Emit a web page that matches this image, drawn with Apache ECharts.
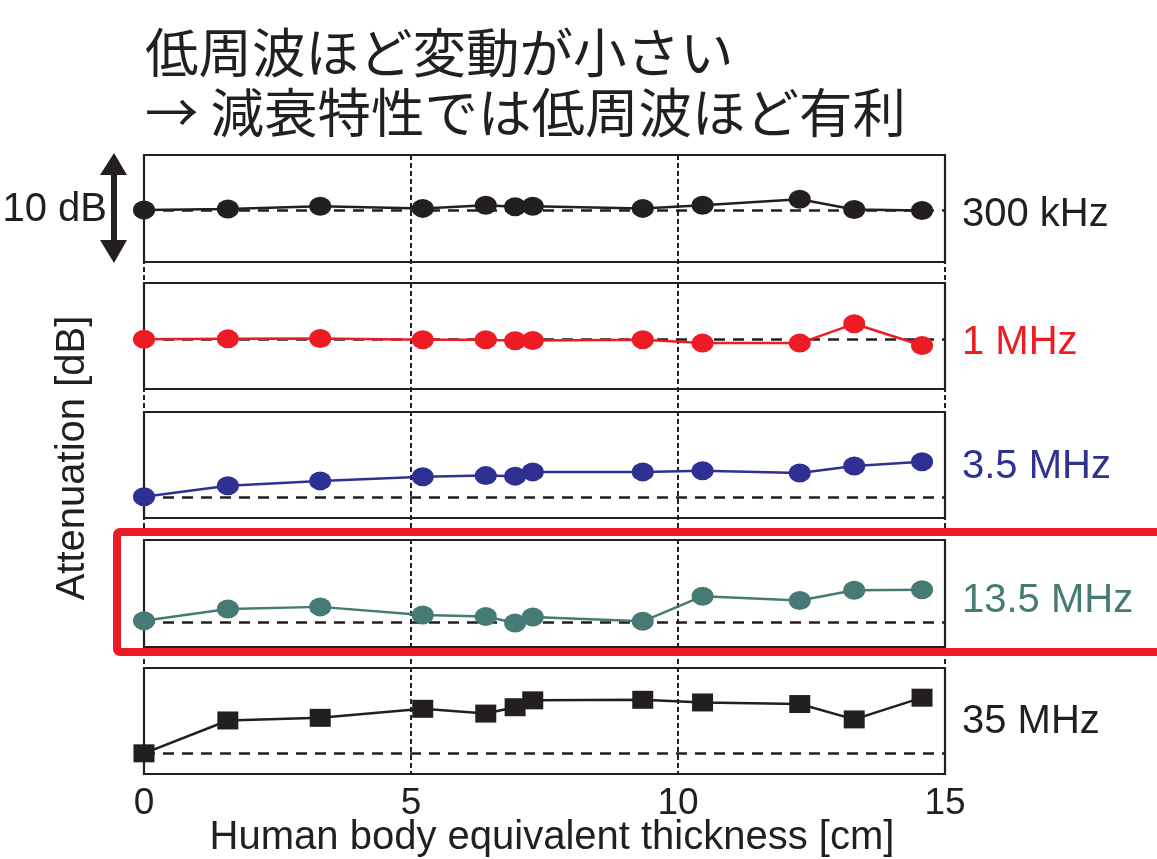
<!DOCTYPE html>
<html>
<head>
<meta charset="utf-8">
<script src="https://cdn.jsdelivr.net/npm/echarts@6/dist/echarts.min.js"></script>
<style>
html,body{margin:0;padding:0;background:#fff;}
#main{width:1157px;height:859px;}
</style>
</head>
<body>
<div id="main"></div>
<script>
// ---- data ----
const thickness = [0, 1.57, 3.3, 5.22, 6.4, 6.95, 7.28, 9.34, 10.46, 12.28, 13.3, 14.57];
const v300k  = [0, 0.1, 0.35, 0.15, 0.45, 0.3, 0.35, 0.15, 0.45, 1.0, 0.05, -0.05];
const v1M    = [0, 0.03, 0.06, -0.06, -0.06, -0.15, -0.13, -0.06, -0.37, -0.37, 1.45, -0.6];
const v3_5M  = [0, 1.05, 1.5, 1.9, 2.0, 1.95, 2.35, 2.35, 2.45, 2.25, 2.9, 3.3];
const v13_5M = [0.15, 1.25, 1.45, 0.7, 0.55, -0.05, 0.5, 0.1, 2.45, 2.05, 3.0, 3.05];
const v35M   = [0, 3.1, 3.35, 4.2, 3.75, 4.35, 5.0, 5.05, 4.8, 4.65, 3.2, 5.25];
const bandNames = ['300 kHz', '1 MHz', '3.5 MHz', '13.5 MHz', '35 MHz'];
const xTicks = [0, 5, 10, 15];
const yMin = [-4.86, -4.7, -2.0, -2.3, -1.95];
const yMax = [5.14, 5.3, 8.0, 7.7, 8.05];
const titleLines = ['低周波ほど変動が小さい', '→ 減衰特性では低周波ほど有利'];
const xTitle = 'Human body equivalent thickness [cm]';
const yTitle = 'Attenuation [dB]';
const scaleLabel = '10 dB';

// ---- styles ----
const INK = '#231f20';
const colors = [INK, '#ed1c24', '#2e3192', '#467b75', INK];
const symbols = ['circle', 'circle', 'circle', 'circle', 'rect'];
const allValues = [v300k, v1M, v3_5M, v13_5M, v35M];
const panelTop = [155, 283, 412, 540, 668];
const panelH = [107, 106, 106, 107, 106];
const labelY = [215, 343, 467, 601, 722];
const LEFT = 144, RIGHT = 1157 - 945;
const FONT = '"Liberation Sans", Arial, Helvetica, sans-serif';

const grids = [{left: LEFT, right: RIGHT, top: 155, height: 619, show: false}];
const xAxes = [{
  gridIndex: 0, type: 'value', min: 0, max: 15, interval: 5,
  axisLine: {show: false}, axisTick: {show: false}, axisLabel: {show: false},
  splitLine: {show: true, lineStyle: {color: INK, width: 2, type: [5, 3]}}
}];
const yAxes = [{gridIndex: 0, type: 'value', show: false, splitLine: {show: false}}];
const series = [];

for (let i = 0; i < 5; i++) {
  grids.push({left: LEFT, right: RIGHT, top: panelTop[i], height: panelH[i],
    show: true, borderColor: INK, borderWidth: 2.2, backgroundColor: 'transparent'});
  const last = i === 4;
  xAxes.push({
    gridIndex: i + 1, type: 'value', min: 0, max: 15, interval: 5,
    axisLine: {show: false}, axisTick: {show: false},
    axisLabel: {show: last, fontSize: 37, color: INK, fontFamily: FONT, margin: 11,
      formatter: v => xTicks.includes(v) ? String(v) : ''},
    splitLine: {show: false}
  });
  yAxes.push({gridIndex: i + 1, type: 'value', min: yMin[i], max: yMax[i], show: false, splitLine: {show: false}});
  series.push({
    type: 'line', xAxisIndex: i + 1, yAxisIndex: i + 1,
    data: thickness.map((t, k) => [t, allValues[i][k]]),
    symbol: symbols[i], symbolSize: last ? [21, 18] : [22, 19],
    lineStyle: {color: colors[i], width: 2.5},
    itemStyle: {color: colors[i]},
    z: 5,
    animation: false,
    markLine: {
      silent: true, symbol: 'none', animation: false,
      label: {show: false},
      lineStyle: {color: INK, width: 2.5, type: [11, 8]},
      data: [{yAxis: 0}],
      z: 3
    }
  });
}

const graphic = [
  // title
  {type: 'text', left: 145, top: 26, style: {text: titleLines[0], font: '53.5px "Noto Sans CJK JP"', fill: INK}},
  {type: 'text', left: 145, top: 86, style: {text: titleLines[1], font: '53.5px "Noto Sans CJK JP"', fill: INK}},
  // axis titles
  {type: 'text', x: 552, y: 838, style: {text: xTitle, font: '40px ' + FONT, fill: INK, textAlign: 'center', textVerticalAlign: 'middle'}},
  {type: 'text', x: 73, y: 458, rotation: Math.PI / 2, style: {text: yTitle, font: '40px ' + FONT, fill: INK, textAlign: 'center', textVerticalAlign: 'middle'}},
  // 10 dB scale
  {type: 'text', x: 107, y: 210, style: {text: scaleLabel, font: '40px ' + FONT, fill: INK, textAlign: 'right', textVerticalAlign: 'middle'}},
  {type: 'line', shape: {x1: 114, y1: 170, x2: 114, y2: 245}, style: {stroke: INK, lineWidth: 6}},
  {type: 'polygon', shape: {points: [[114, 153], [100, 175], [127, 175]]}, style: {fill: INK}},
  {type: 'polygon', shape: {points: [[114, 263], [100, 240], [127, 240]]}, style: {fill: INK}},
  // highlight box
  {type: 'rect', z: 100, shape: {x: 117, y: 532, width: 1100, height: 120, r: 3}, style: {fill: 'none', stroke: '#ed1c24', lineWidth: 8}}
];
for (let i = 0; i < 5; i++) {
  graphic.push({type: 'text', x: 962, y: labelY[i], style: {text: bandNames[i], font: '40px ' + FONT, fill: colors[i], textVerticalAlign: 'middle'}});
}

const chart = echarts.init(document.getElementById('main'), null, {renderer: 'canvas'});
chart.setOption({
  backgroundColor: '#fff',
  animation: false,
  grid: grids, xAxis: xAxes, yAxis: yAxes, series: series, graphic: graphic
});
</script>
</body>
</html>
